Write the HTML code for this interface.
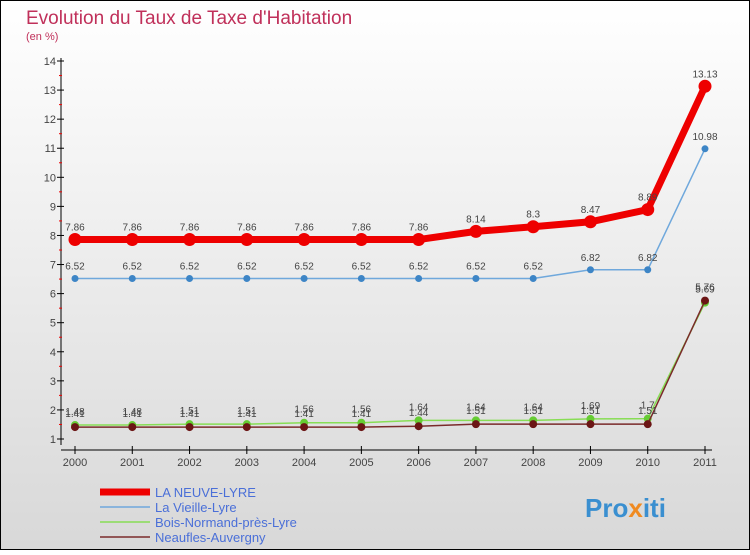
<!DOCTYPE html>
<html><head><meta charset="utf-8"><style>
body{margin:0;width:750px;height:550px;overflow:hidden;font-family:"Liberation Sans",sans-serif}
</style></head><body>
<svg width="750" height="550" xmlns="http://www.w3.org/2000/svg">
<defs><linearGradient id="bg" x1="0" y1="0" x2="0" y2="1"><stop offset="0" stop-color="#ffffff"/><stop offset="1" stop-color="#d8d8d8"/></linearGradient></defs>
<rect x="0.5" y="0.5" width="749" height="549" fill="url(#bg)" stroke="#000"/>
<text x="26" y="24" font-size="19" fill="#c0305a">Evolution du Taux de Taxe d'Habitation</text>
<text x="26" y="40" font-size="11" fill="#c0305a">(en %)</text>
<g id="axes"></g><g id="series"></g><g id="legend"></g>
<text x="585" y="517" font-size="26" font-weight="bold" fill="#3a8fd0">Pro<tspan fill="#f08a20">x</tspan>iti</text>
</svg>
<script>
const years=[2000,2001,2002,2003,2004,2005,2006,2007,2008,2009,2010,2011];
const laNeuve=[7.86,7.86,7.86,7.86,7.86,7.86,7.86,8.14,8.3,8.47,8.89,13.13];
const laVieille=[6.52,6.52,6.52,6.52,6.52,6.52,6.52,6.52,6.52,6.82,6.82,10.98];
const boisNormand=[1.48,1.48,1.51,1.51,1.56,1.56,1.64,1.64,1.64,1.69,1.7,5.69];
const neaufles=[1.41,1.41,1.41,1.41,1.41,1.41,1.44,1.51,1.51,1.51,1.51,5.76];
const yTicks=[1,2,3,4,5,6,7,8,9,10,11,12,13,14];
const NS="http://www.w3.org/2000/svg";
function X(i){return 75+i*(705-75)/(years.length-1);}
function Y(v){return 61+(14-v)*(439-61)/13;}
function mk(t,a,p){const e=document.createElementNS(NS,t);for(const k in a)e.setAttribute(k,a[k]);p.appendChild(e);return e;}
const ax=document.getElementById('axes');
let yl=mk('line',{x1:61,y1:58,x2:61,y2:445,stroke:'#000'},ax);


let xl=mk('line',{x1:61,y1:450,x2:712,y2:450,stroke:'#000'},ax);


yTicks.forEach(v=>{mk('line',{x1:57,y1:Y(v),x2:64,y2:Y(v),stroke:'#000'},ax);
 if(v<14)mk('line',{x1:59,y1:Y(v+0.5),x2:62,y2:Y(v+0.5),stroke:'#e00'},ax);
 const t=mk('text',{x:56,y:Y(v)+4,'font-size':11,fill:'#444','text-anchor':'end'},ax);t.textContent=v;
 
 });
years.forEach((y,i)=>{mk('line',{x1:X(i),y1:446,x2:X(i),y2:454,stroke:'#000'},ax);
 const t=mk('text',{x:X(i),y:466,'font-size':11,fill:'#444','text-anchor':'middle'},ax);t.textContent=y;
 
 });
const sg=document.getElementById('series');
const series=[
 {n:'LA NEUVE-LYRE',d:laNeuve,c:'#ee0000',w:7,r:6.5,pc:'#ee0000',lo:-9},
 {n:'La Vieille-Lyre',d:laVieille,c:'#6fa8dc',w:1.5,r:3.5,pc:'#3d85c6',lo:-9},
 {n:'Bois-Normand-près-Lyre',d:boisNormand,c:'#88dd55',w:1.5,r:4,pc:'#66cc33',lo:-10},
 {n:'Neaufles-Auvergny',d:neaufles,c:'#7a2a2a',w:1.5,r:4,pc:'#6b1515',lo:-10}];
series.forEach((s,si)=>{
 const g=mk('g',{},sg);
 
 
 const p=mk('polyline',{points:s.d.map((v,i)=>X(i)+','+Y(v)).join(' '),fill:'none',stroke:s.c,'stroke-width':s.w,'stroke-linejoin':'round'},g);
 
 
 s.d.forEach((v,i)=>{const c=mk('circle',{cx:X(i),cy:Y(v),r:s.r,fill:s.pc},g);
  
  
  const t=mk('text',{x:X(i),y:Y(v)+s.lo,'font-size':10,fill:'#444','text-anchor':'middle'},g);t.textContent=v;
  
  });
});
const lg=document.getElementById('legend');
series.forEach((s,i)=>{const y=492+i*15;
 const g=mk('g',{},lg);
 
 
 mk('line',{x1:100,y1:y,x2:150,y2:y,stroke:s.c,'stroke-width':s.w},g);
 const t=mk('text',{x:155,y:y+5,'font-size':13,fill:'#4a6fd8'},g);t.textContent=s.n;});
</script>
</body></html>
